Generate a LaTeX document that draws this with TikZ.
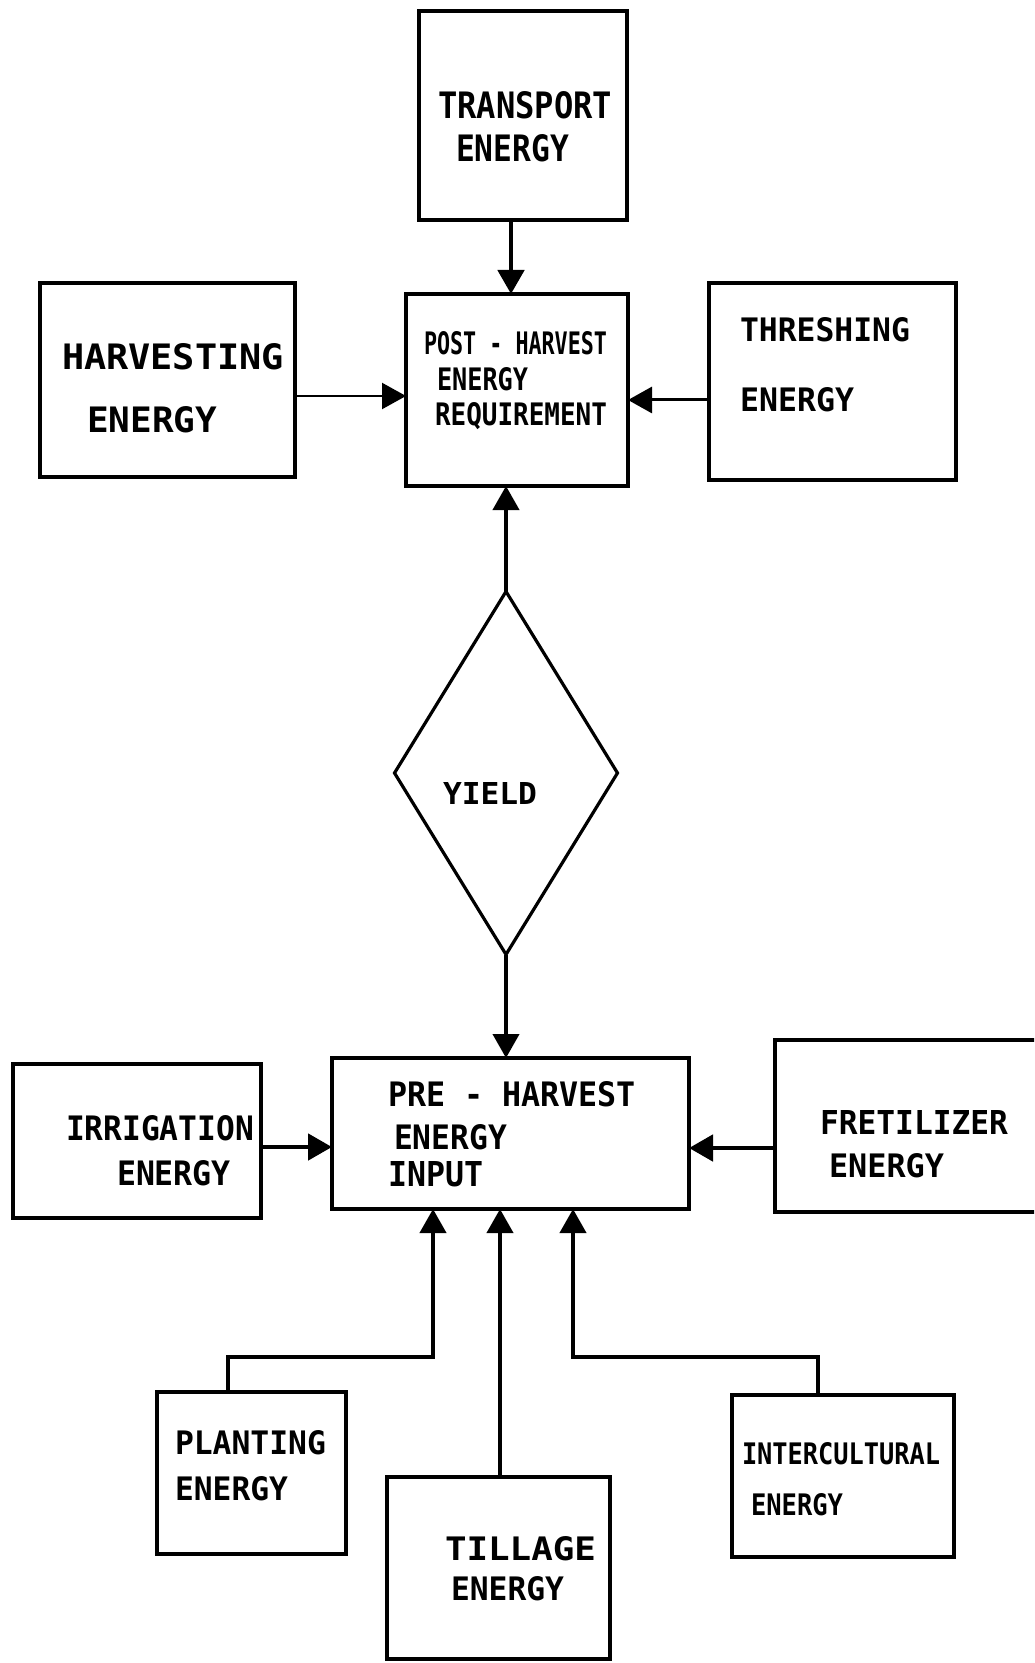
\documentclass[tikz,border=0pt]{standalone}
\usepackage{fontspec}
\setmainfont{DejaVu Sans Mono}
\usepackage{graphicx}
\usetikzlibrary{arrows.meta,shapes.geometric,fit}
\newdimen\pxu \pxu=0.5pt
\newcommand\tx[3]{\resizebox{#1\pxu}{#2\pxu}{\bfseries #3}}
\begin{document}
\begin{tikzpicture}[x=0.5pt,y=-0.5pt,
  box/.style={draw=black,line width=2pt,inner sep=0pt,outer sep=0pt},
  lbl/.style={inner sep=0pt,outer sep=0pt,anchor=base west,text=black},
  arr/.style={draw=black,line width=2pt,-{Triangle[length=12pt,width=13pt]}},
  thinarr/.style={arr,line width=1.1pt},
  midarr/.style={arr,line width=1.5pt},
  heavyarr/.style={arr,line width=2.4pt},
  link/.style={draw=black,line width=2pt}]
\useasboundingbox (0,0) rectangle (1034,1663);
\clip (0,0) rectangle (1034,1663);
\fill[white] (0,0) rectangle (1034,1663);

% boxes
\node[box,fit={(419,11) (627,220)}] (transport) {};
\node[box,fit={(406,294) (628,486)}] (post) {};
\node[box,fit={(40,283) (295,477)}] (harvest) {};
\node[box,fit={(709,283) (956,480)}] (thresh) {};
\node[draw=black,line width=1.6pt,shape=diamond,inner sep=0pt,outer sep=0pt,
      minimum width=111.5pt,minimum height=181.5pt] (yield) at (506,773) {};
\node[box,fit={(332,1058) (689,1209)}] (pre) {};
\node[box,fit={(13,1064) (261,1218)}] (irrig) {};
\node[box,fit={(775,1040) (1050,1212)}] (fert) {};
\node[box,fit={(157,1392) (346,1554)}] (planting) {};
\node[box,fit={(387,1477) (610,1659)}] (tillage) {};
\node[box,fit={(732,1395) (954,1557)}] (intercult) {};

% texts
\node[lbl] (ttr1) at (438,119) {\tx{174}{27}{TRANSPORT}};
\node[lbl] (ttr2) at (456,162) {\tx{113}{27}{ENERGY}};
\node[lbl] (tpo1) at (424,355) {\tx{183}{23}{POST - HARVEST}};
\node[lbl] (tpo2) at (437,391) {\tx{91}{23}{ENERGY}};
\node[lbl] (tpo3) at (435,426) {\tx{172}{23}{REQUIREMENT}};
\node[lbl] (tha1) at (62,370) {\tx{222}{26}{HARVESTING}};
\node[lbl] (tha2) at (87,433) {\tx{130}{26}{ENERGY}};
\node[lbl] (tth1) at (740,342) {\tx{170}{24}{THRESHING}};
\node[lbl] (tth2) at (740,412) {\tx{114}{24}{ENERGY}};
\node[lbl] (tyi) at (443,804) {\tx{94}{22}{YIELD}};
\node[lbl] (tpr1) at (388,1106) {\tx{248}{25}{PRE - HARVEST}};
\node[lbl] (tpr2) at (394,1149) {\tx{113}{25}{ENERGY}};
\node[lbl] (tpr3) at (388,1186) {\tx{95}{25}{INPUT}};
\node[lbl] (tir1) at (66,1140) {\tx{188}{25}{IRRIGATION}};
\node[lbl] (tir2) at (117,1185) {\tx{114}{25}{ENERGY}};
\node[lbl] (tfe1) at (820,1134) {\tx{188}{24}{FRETILIZER}};
\node[lbl] (tfe2) at (829,1177) {\tx{115}{24}{ENERGY}};
\node[lbl] (tpl1) at (175,1454) {\tx{151}{24}{PLANTING}};
\node[lbl] (tpl2) at (175,1500) {\tx{113}{24}{ENERGY}};
\node[lbl] (tti1) at (445,1560) {\tx{151}{24}{TILLAGE}};
\node[lbl] (tti2) at (451,1600) {\tx{113}{24}{ENERGY}};
\node[lbl] (tin1) at (742,1464) {\tx{198}{22}{INTERCULTURAL}};
\node[lbl] (tin2) at (751,1515) {\tx{92}{22}{ENERGY}};

% helper coordinates
\coordinate (xt) at (511,0);
\coordinate (yh) at (0,396);
\coordinate (yt) at (0,400);
\coordinate (yi) at (0,1147);
\coordinate (yf) at (0,1148);
\coordinate (e1) at (228,1357);
\coordinate (e2) at (433,1357);
\coordinate (e3) at (500,1400);
\coordinate (e4) at (818,1357);
\coordinate (e5) at (573,1357);

% connectors
\draw[heavyarr] (xt |- transport.south) -- (xt |- post.north);
\draw[thinarr] (harvest.east |- yh) -- (post.west |- yh);
\draw[midarr] (thresh.west |- yt) -- (post.east |- yt);
\draw[arr] (yield.north) -- (yield.north |- post.south);
\draw[arr] (yield.south) -- (yield.south |- pre.north);
\draw[heavyarr] (irrig.east |- yi) -- (pre.west |- yi);
\draw[heavyarr] (fert.west |- yf) -- (pre.east |- yf);
\draw[arr] (e1 |- planting.north) -- (e1) -- (e2) -- (e2 |- pre.south);
\draw[arr] (e3 |- tillage.north) -- (e3 |- pre.south);
\draw[arr] (e4 |- intercult.north) -- (e4) -- (e5) -- (e5 |- pre.south);
\end{tikzpicture}
\end{document}
